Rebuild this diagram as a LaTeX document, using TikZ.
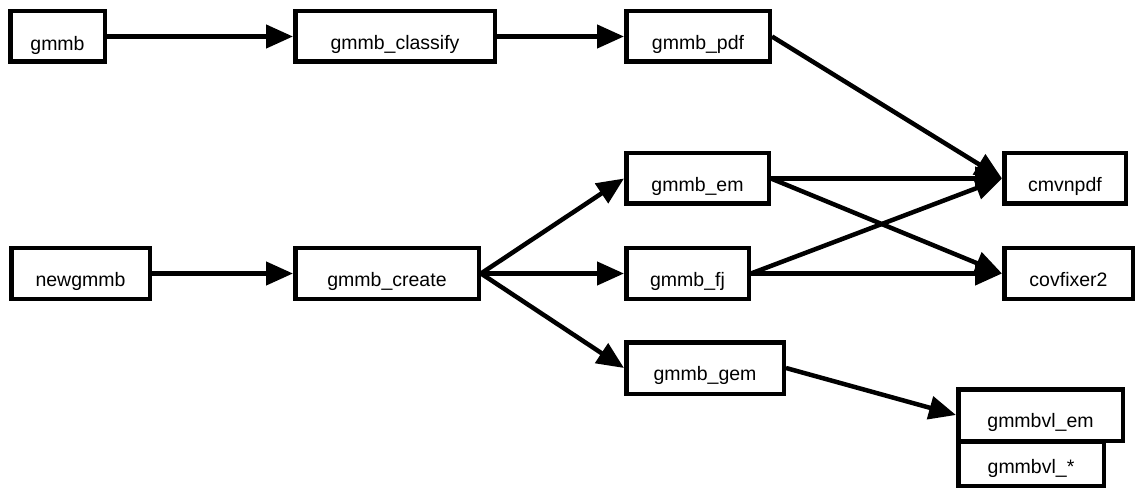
\documentclass[tikz,border=0pt]{standalone}
\usepackage{fontspec}
\setmainfont{Liberation Sans}
\usetikzlibrary{arrows.meta}
\tikzset{
  box/.style={draw, line width=4.5pt, fill=white, inner sep=0pt, rectangle},
  lbl/.style={anchor=base, font=\fontsize{19.5}{23}\selectfont, inner sep=0pt},
  conn/.style={line width=4.5pt, -{Triangle[length=27pt,width=23pt]}}
}
\begin{document}
\begin{tikzpicture}[x=1pt,y=-1pt]
\useasboundingbox (0,0) rectangle (1141,489);
% boxes
\node[box, minimum width=94.5pt, minimum height=50.5pt] (gmmb) at (57.5,36.5) {};
\node[box, minimum width=199.5pt, minimum height=50.5pt] (classify) at (395,36.5) {};
\node[box, minimum width=143.5pt, minimum height=50.5pt] (pdf) at (698,36.5) {};
\node[box, minimum width=142.5pt, minimum height=50.5pt] (em) at (697.5,178.5) {};
\node[box, minimum width=121.5pt, minimum height=50.5pt] (cmvnpdf) at (1065,178.5) {};
\node[box, minimum width=138.5pt, minimum height=50.5pt] (newgmmb) at (80.5,273.5) {};
\node[box, minimum width=183.5pt, minimum height=50.5pt] (create) at (387,273.5) {};
\node[box, minimum width=122.5pt, minimum height=50.5pt] (fj) at (687.5,273.5) {};
\node[box, minimum width=128.5pt, minimum height=50.5pt] (covfixer) at (1068.5,273.5) {};
\node[box, minimum width=157.5pt, minimum height=51.5pt] (gem) at (705,368) {};
\node[box, minimum width=164.5pt, minimum height=51.5pt] (vlem) at (1040.5,415) {};
\node[box, minimum width=145.5pt, minimum height=44.5pt] (vlstar) at (1031,463.5) {};
% labels
\node[lbl] (tgmmb) at ([yshift=-14pt]gmmb.center) {gmmb};
\node[lbl] (tclassify) at ([yshift=-13pt]classify.center) {gmmb\_classify};
\node[lbl] (tpdf) at ([yshift=-13pt]pdf.center) {gmmb\_pdf};
\node[lbl] (tem) at ([yshift=-13pt]em.center) {gmmb\_em};
\node[lbl] (tcmvnpdf) at ([yshift=-13pt]cmvnpdf.center) {cmvnpdf};
\node[lbl] (tnewgmmb) at ([yshift=-13pt]newgmmb.center) {newgmmb};
\node[lbl] (tcreate) at ([yshift=-13pt]create.center) {gmmb\_create};
\node[lbl] (tfj) at ([yshift=-13pt]fj.center) {gmmb\_fj};
\node[lbl] (tcovfixer) at ([yshift=-13pt]covfixer.center) {covfixer2};
\node[lbl] (tgem) at ([yshift=-12pt]gem.center) {gmmb\_gem};
\node[lbl] (tvlem) at ([yshift=-12.5pt]vlem.center) {gmmbvl\_em};
\node[lbl] (tvlstar) at ([yshift=-9.5pt]vlstar.center) {gmmbvl\_*};
% connectors
\draw[conn] (gmmb.east) -- (classify.west);
\draw[conn] (classify.east) -- (pdf.west);
\draw[conn] (pdf.east) -- (cmvnpdf.west);
\draw[conn] (em.east) -- (cmvnpdf.west);
\draw[conn] (em.east) -- (covfixer.west);
\draw[conn] (fj.east) -- (cmvnpdf.west);
\draw[conn] (fj.east) -- (covfixer.west);
\draw[conn] (newgmmb.east) -- (create.west);
\draw[conn] (create.east) -- (em.west);
\draw[conn] (create.east) -- (fj.west);
\draw[conn] (create.east) -- (gem.west);
\draw[conn] (gem.east) -- (vlem.west);
\end{tikzpicture}
\end{document}
